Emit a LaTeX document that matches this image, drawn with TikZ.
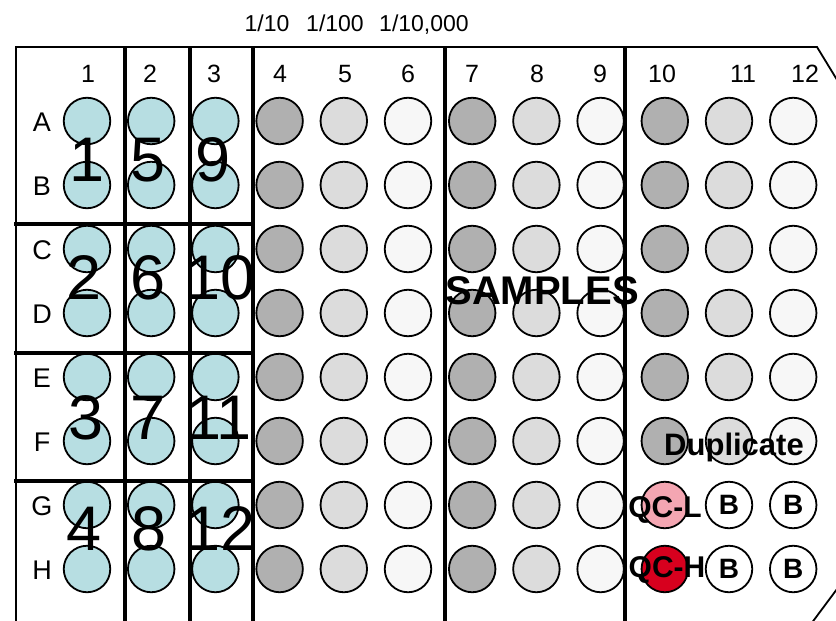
\documentclass[tikz,border=0pt]{standalone}
\usepackage{fontspec}
\setmainfont{Liberation Sans}
\usetikzlibrary{positioning, calc}

\definecolor{wellcyan}{HTML}{B7DEE2}
\definecolor{welldark}{HTML}{B0B0B0}
\definecolor{welllight}{HTML}{DCDCDC}
\definecolor{wellpale}{HTML}{F7F7F7}
\definecolor{qclow}{HTML}{F4A6B2}
\definecolor{qchigh}{HTML}{D7001E}

\begin{document}
\begin{tikzpicture}[
    x=1pt,
    y=-1pt,
    % pocillos de la placa
    well/.style={circle, draw=black, line width=1.8pt, minimum size=46.5pt, inner sep=0pt},
    plate edge/.style={line width=1.8pt},
    divider/.style={line width=4pt},
    % etiquetas
    col head/.style={font=\fontsize{25}{25}\selectfont, text depth=0pt},
    row head/.style={font=\fontsize{27}{27}\selectfont, text depth=0pt},
    dilution/.style={font=\fontsize{23}{23}\selectfont, text depth=0pt},
    std num/.style={font=\fontsize{63}{63}\selectfont, text depth=0pt, inner sep=0pt},
    bold tag/.style={font=\bfseries\fontsize{30}{30}\selectfont, text depth=0pt, inner sep=0pt}
]
    \useasboundingbox (0,0) rectangle (836,621);

    % --- 1. POCILLOS, COLUMNAS 1 A 9 ---
    \foreach \c/\fc in {1/wellcyan, 2/wellcyan, 3/wellcyan,
                        4/welldark, 5/welllight, 6/wellpale,
                        7/welldark, 8/welllight, 9/wellpale} {
        \foreach \r [count=\i] in {A,B,C,D,E,F,G,H} {
            \pgfmathsetmacro{\xx}{87+(\c-1)*64.2}
            \pgfmathsetmacro{\yy}{121+(\i-1)*64}
            \node[well, fill=\fc] (\r\c) at (\xx,\yy) {};
        }
    }

    % --- 2. POCILLOS, COLUMNAS 10 A 12 (filas A-F) ---
    \foreach \c/\fc in {10/welldark, 11/welllight, 12/wellpale} {
        \foreach \r [count=\i] in {A,B,C,D,E,F} {
            \pgfmathsetmacro{\xx}{87+(\c-1)*64.2}
            \pgfmathsetmacro{\yy}{121+(\i-1)*64}
            \node[well, fill=\fc] (\r\c) at (\xx,\yy) {};
        }
    }

    % --- 3. CONTROLES Y BLANCOS ---
    \node[well, fill=qclow]  (G10) at (664.8,505) {};
    \node[well, fill=qchigh] (H10) at (664.8,569) {};
    \node[well, fill=white, font=\bfseries\fontsize{28}{28}\selectfont, text depth=0pt] (G11) at (729,505) {B};
    \node[well, fill=white, font=\bfseries\fontsize{28}{28}\selectfont, text depth=0pt] (G12) at (793.2,505) {B};
    \node[well, fill=white, font=\bfseries\fontsize{28}{28}\selectfont, text depth=0pt] (H11) at (729,569) {B};
    \node[well, fill=white, font=\bfseries\fontsize{28}{28}\selectfont, text depth=0pt] (H12) at (793.2,569) {B};

    % --- 4. BORDE DE LA PLACA ---
    \draw[plate edge] (16,628) -- (16,47) -- (817,47) -- (842,88);
    \draw[plate edge] (808,628) -- (840,585);

    % --- 5. SEPARADORES ---
    \foreach \xx in {125, 190, 253, 445, 625}
        \draw[divider] (\xx,47) -- (\xx,628);
    \foreach \yy in {224, 353, 481}
        \draw[divider] (14,\yy) -- (255,\yy);

    % --- 6. ENCABEZADOS ---
    \foreach \c/\xx in {1/88, 2/150, 3/214, 4/280, 5/345, 6/408, 7/472, 8/537, 9/600,
                        10/662, 11/743, 12/805}
        \node[col head] (h\c) at (\xx,74) {\c};
    \foreach \r [count=\i] in {A,B,C,D,E,F,G,H} {
        \pgfmathsetmacro{\yy}{122+(\i-1)*64}
        \node[row head] (l\r) at (42,\yy) {\r};
    }
    \node[dilution] (d1) at (267,23) {1/10};
    \node[dilution] (d2) at (335,23) {1/100};
    \node[dilution] (d3) at (424,23) {1/10,000};

    % --- 7. NUMEROS DE ESTANDARES ---
    \foreach \n/\xx/\yy in {1/87/160, 5/148/160, 9/213/160,
                            2/84/278, 6/148/278, 10/221/278,
                            3/86/418, 7/148/418, 11/219/418,
                            4/84/529, 8/149/529, 12/221/529}
        \node[std num] (s\n) at (\xx,\yy) {\n};

    % --- 8. ROTULOS ---
    \node[bold tag, font=\bfseries\fontsize{40}{40}\selectfont] (samples) at (542,291) {SAMPLES};
    \node[bold tag, font=\bfseries\fontsize{31}{31}\selectfont] (dup) at (734,444) {Duplicate};
    \node[bold tag] (qcl) at (665,507) {QC-L};
    \node[bold tag] (qch) at (667,567) {QC-H};
\end{tikzpicture}
\end{document}
